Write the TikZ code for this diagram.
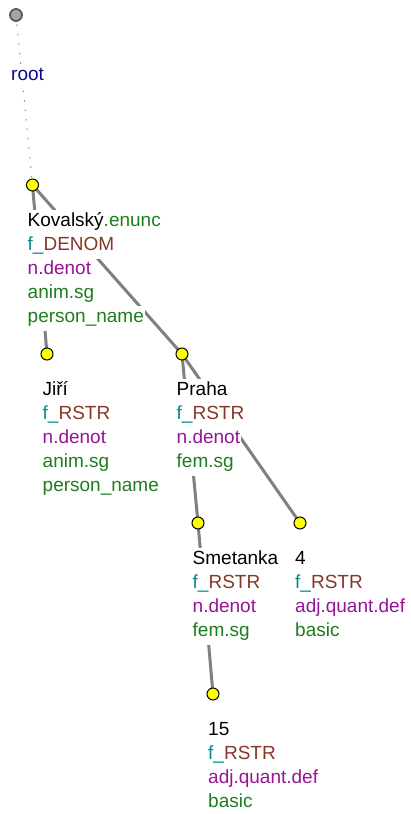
\documentclass[tikz,border=0pt]{standalone}
\usepackage{fontspec}
\setmainfont{Liberation Sans}
\usetikzlibrary{backgrounds}
\definecolor{cgreen}{RGB}{30,125,30}
\definecolor{cteal}{RGB}{0,140,140}
\definecolor{cbrown}{RGB}{135,55,40}
\definecolor{cpurple}{RGB}{150,20,150}
\definecolor{cnavy}{RGB}{10,10,140}
\definecolor{cedge}{RGB}{128,128,128}
\definecolor{cyel}{RGB}{255,255,0}
\newcommand\tln[4]{\node[tl] (#1) at (#2,#3) {#4};}
\begin{document}
\begin{tikzpicture}[x=1pt,y=-1pt,
  tnode/.style={circle,draw=black,line width=1pt,fill=cyel,minimum size=12pt,inner sep=0pt},
  rnode/.style={circle,draw=black!65,line width=1.8pt,fill=black!35,minimum size=12pt,inner sep=0pt},
  edge/.style={draw=cedge,line width=3pt},
  rootedge/.style={draw=black!45,line width=1pt,dash pattern=on 1.5pt off 8pt},
  tl/.style={anchor=base west,inner sep=0pt,inner xsep=1pt,fill=white,text height=16pt,text depth=8.5pt,font=\fontsize{19}{24}\selectfont}]
\useasboundingbox (0,0) rectangle (410,814);
% tree nodes
\node[rnode] (root) at (16,15) {};
\node[tnode] (kov) at (32.5,185) {};
\node[tnode] (jiri) at (47,354) {};
\node[tnode] (praha) at (182,354) {};
\node[tnode] (smet) at (198,523) {};
\node[tnode] (four) at (300,523) {};
\node[tnode] (fift) at (213,694) {};
% edges
\begin{scope}[on background layer]
\draw[rootedge] (root.center) -- (kov.center);
\draw[edge] (kov.center) -- (jiri.center);
\draw[edge] (kov.center) -- (praha.center);
\draw[edge] (praha.center) -- (smet.center);
\draw[edge] (praha.center) -- (four.center);
\draw[edge] (smet.center) -- (fift.center);
\end{scope}
% labels
\tln{rootl}{10}{80}{\textcolor{cnavy}{root}}
\tln{kov1}{26.5}{226}{Kovalský\textcolor{cgreen}{.enunc}}
\tln{kov2}{26.5}{250}{\textcolor{cteal}{f\_}\textcolor{cbrown}{DENOM}}
\tln{kov3}{26.5}{274}{\textcolor{cpurple}{n.denot}}
\tln{kov4}{26.5}{298}{\textcolor{cgreen}{anim.sg}}
\tln{kov5}{26.5}{322}{\textcolor{cgreen}{person\_name}}
\tln{jiri1}{41.5}{395}{Jiří}
\tln{jiri2}{41.5}{419}{\textcolor{cteal}{f\_}\textcolor{cbrown}{RSTR}}
\tln{jiri3}{41.5}{443}{\textcolor{cpurple}{n.denot}}
\tln{jiri4}{41.5}{467}{\textcolor{cgreen}{anim.sg}}
\tln{jiri5}{41.5}{491}{\textcolor{cgreen}{person\_name}}
\tln{praha1}{175.5}{395}{Praha}
\tln{praha2}{175.5}{419}{\textcolor{cteal}{f\_}\textcolor{cbrown}{RSTR}}
\tln{praha3}{175.5}{443}{\textcolor{cpurple}{n.denot}}
\tln{praha4}{175.5}{467}{\textcolor{cgreen}{fem.sg}}
\tln{smet1}{191.5}{564}{Smetanka}
\tln{smet2}{191.5}{588}{\textcolor{cteal}{f\_}\textcolor{cbrown}{RSTR}}
\tln{smet3}{191.5}{612}{\textcolor{cpurple}{n.denot}}
\tln{smet4}{191.5}{636}{\textcolor{cgreen}{fem.sg}}
\tln{four1}{294}{564}{4}
\tln{four2}{294}{588}{\textcolor{cteal}{f\_}\textcolor{cbrown}{RSTR}}
\tln{four3}{294}{612}{\textcolor{cpurple}{adj.quant.def}}
\tln{four4}{294}{636}{\textcolor{cgreen}{basic}}
\tln{fift1}{207}{735}{15}
\tln{fift2}{207}{759}{\textcolor{cteal}{f\_}\textcolor{cbrown}{RSTR}}
\tln{fift3}{207}{783}{\textcolor{cpurple}{adj.quant.def}}
\tln{fift4}{207}{807}{\textcolor{cgreen}{basic}}
\end{tikzpicture}
\end{document}
